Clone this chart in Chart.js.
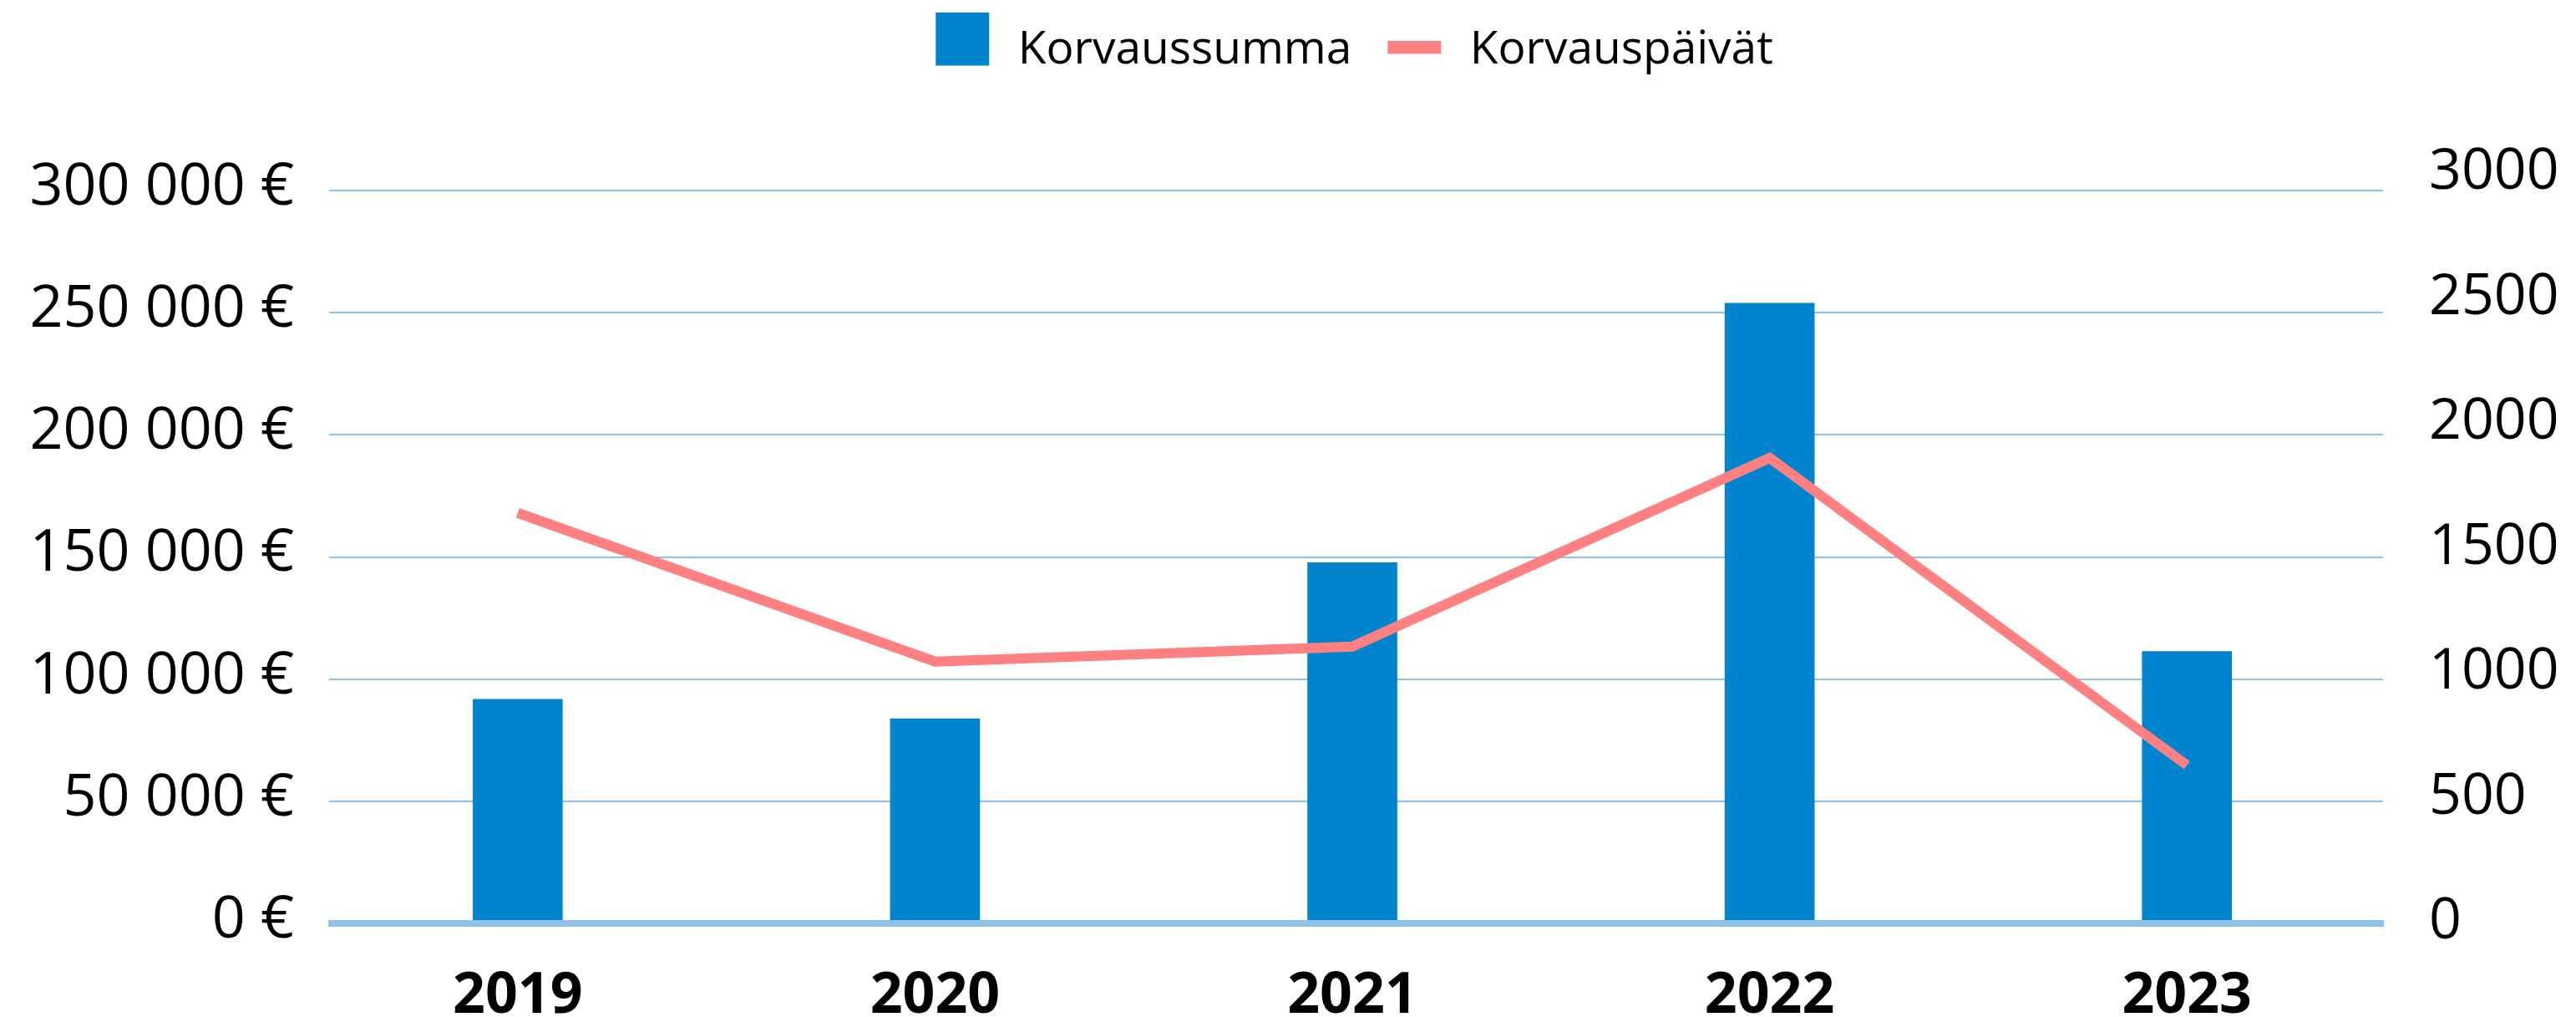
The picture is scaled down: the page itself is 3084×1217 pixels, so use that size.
<!DOCTYPE html>
<html>
<head>
<meta charset="utf-8">
<script src="https://cdn.jsdelivr.net/npm/chart.js@4.4.1/dist/chart.umd.min.js"></script>
<style>
  html, body { margin: 0; padding: 0; background: #fff; }
  #wrap { width: 3084px; height: 1217px; }
</style>
</head>
<body>
<div id="wrap"><canvas id="korvausChart" width="3084" height="1217"></canvas></div>
<script>
// --------------- data -----------------
const years = ['2019', '2020', '2021', '2022', '2023'];
const korvaussumma = [91700, 83800, 147700, 253900, 111300];   // euros, left axis
const korvauspaivat = [1620, 1025, 1085, 1840, 610];            // days, right axis
const euroTicks = [0, 50000, 100000, 150000, 200000, 250000, 300000];
const dayTicks = [0, 500, 1000, 1500, 2000, 2500, 3000];

const BAR_COLOR = '#0084ce';
const LINE_COLOR = '#ff8080';
const GRID_COLOR = '#8dc0ea';
const FONT = '"Open Sans", "Noto Sans", sans-serif';

Chart.defaults.color = '#000';
Chart.defaults.font.family = FONT;

// legend icons (square for bars, flat strip for the line)
function makeIcon(color, w, h, x0, y0, bw, bh) {
    let c = document.createElement('canvas');
    c.width = w;
    c.height = h;
    let g = c.getContext('2d');
    g.fillStyle = color;
    g.fillRect(x0, y0, bw, bh);
    return c;
}
const barIcon = makeIcon(BAR_COLOR, 76, 92, 5, 0, 64, 64);
const lineIcon = makeIcon(LINE_COLOR, 76, 24, 5, 0, 64, 16);

function formatEuro(value) {
    return String(value).replace(/\B(?=(\d{3})+(?!\d))/g, ' ') + ' €';
}

// horizontal grid + thick zero line, drawn from the left scale's ticks
const gridPlugin = {
    id: 'blueGrid',
    beforeDatasetsDraw(chart) {
        const {ctx, chartArea, scales} = chart;
        ctx.save();
        ctx.strokeStyle = GRID_COLOR;
        ctx.lineWidth = 2;
        scales.y.ticks.forEach(t => {
            if (t.value === 0) return;
            let py = Math.round(scales.y.getPixelForValue(t.value));
            ctx.beginPath();
            ctx.moveTo(chartArea.left + 24, py);
            ctx.lineTo(chartArea.right - 15, py);
            ctx.stroke();
        });
        ctx.restore();
    },
    afterDatasetsDraw(chart) {
        const {ctx, chartArea, scales} = chart;
        let py = scales.y.getPixelForValue(0);
        ctx.save();
        ctx.strokeStyle = GRID_COLOR;
        ctx.lineWidth = 8;
        ctx.beginPath();
        ctx.moveTo(chartArea.left + 23, py);
        ctx.lineTo(chartArea.right - 14, py);
        ctx.stroke();
        ctx.restore();
    }
};

// fixed legend block height, then nudge the legend a bit right/up
const legendPlacePlugin = {
    id: 'legendPlace',
    beforeInit(chart) {
        const origFit = chart.legend.fit;
        chart.legend.fit = function() {
            origFit.bind(chart.legend)();
            this.height = 228;
        };
    },
    afterLayout(chart) {
        let lg = chart.legend;
        lg.left += 77;
        lg.right += 77;
        lg.top -= 5;
    }
};

let ctx = document.getElementById('korvausChart');
let chart = new Chart(ctx, {
    data: {
        labels: years,
        datasets: [
            {
                type: 'bar',
                label: 'Korvaussumma',
                data: korvaussumma,
                backgroundColor: BAR_COLOR,
                barThickness: 107,
                yAxisID: 'y',
                order: 1
            },
            {
                type: 'line',
                label: 'Korvauspäivät',
                data: korvauspaivat,
                borderColor: LINE_COLOR,
                borderWidth: 12,
                borderJoinStyle: 'miter',
                borderCapStyle: 'butt',
                tension: 0,
                pointRadius: 0,
                pointHoverRadius: 0,
                fill: false,
                yAxisID: 'y1',
                order: 0
            }
        ]
    },
    options: {
        responsive: false,
        animation: false,
        layout: { padding: 0 },
        scales: {
            x: {
                grid: { display: false },
                border: { display: false },
                ticks: {
                    padding: 39,
                    font: { size: 68, weight: 'bold' },
                    color: '#000'
                },
                afterFit: s => { s.height = 112; }
            },
            y: {
                position: 'left',
                min: 0,
                max: 300000,
                grid: { display: false },
                border: { display: false },
                afterBuildTicks: s => { s.ticks = euroTicks.map(v => ({value: v})); },
                ticks: {
                    padding: 10,
                    labelOffset: -3,
                    autoSkip: false,
                    font: { size: 70 },
                    callback: v => formatEuro(v)
                },
                afterFit: s => { s.width = 370; }
            },
            y1: {
                position: 'right',
                min: -23,
                max: 2910,
                grid: { display: false },
                border: { display: false },
                afterBuildTicks: s => { s.ticks = dayTicks.map(v => ({value: v})); },
                ticks: {
                    padding: 32,
                    labelOffset: 6,
                    autoSkip: false,
                    font: { size: 68 },
                    callback: v => String(v)
                },
                afterFit: s => { s.width = 216; }
            }
        },
        plugins: {
            legend: {
                display: true,
                position: 'top',
                align: 'center',
                labels: {
                    usePointStyle: true,
                    pointStyleWidth: 76,
                    padding: 38,
                    font: { size: 55 },
                    color: '#000',
                    generateLabels: () => [
                        { text: 'Korvaussumma', pointStyle: barIcon, fillStyle: BAR_COLOR, strokeStyle: BAR_COLOR, lineWidth: 0, hidden: false, datasetIndex: 0 },
                        { text: 'Korvauspäivät', pointStyle: lineIcon, fillStyle: LINE_COLOR, strokeStyle: LINE_COLOR, lineWidth: 0, hidden: false, datasetIndex: 1 }
                    ]
                }
            },
            tooltip: { enabled: false }
        }
    },
    plugins: [gridPlugin, legendPlacePlugin]
});
</script>
</body>
</html>
